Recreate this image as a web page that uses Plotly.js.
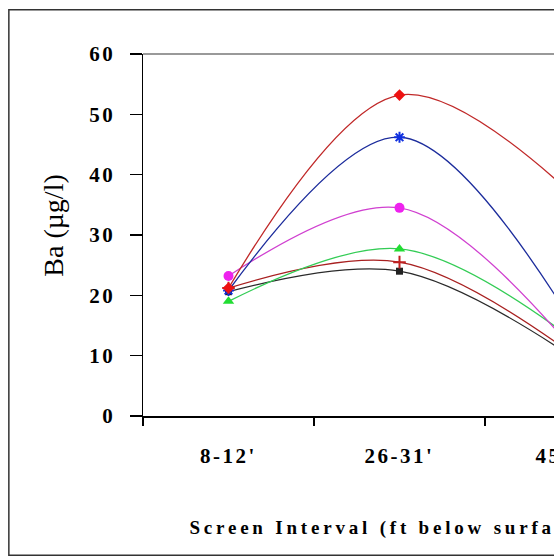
<!DOCTYPE html>
<html>
<head>
<meta charset="utf-8">
<script src="https://cdn.plot.ly/plotly-3.0.1.min.js"></script>
<style>
html, body { margin: 0; padding: 0; overflow: hidden; background: #fff; }
#chart { width: 680px; height: 557px; }
#chart .xtick text, #chart .ytick text { letter-spacing: 2.5px; }
#chart g.annotation[data-index="1"] text { letter-spacing: 3.8px; }
</style>
</head>
<body>
<div id="chart"></div>
<script>
// Categories (screen intervals)
var categories = ["8-12'", "26-31'", "45-50'"];

// Series values (Ba, µg/l)
var redValues     = [21.2, 53.2, 37.0];
var blueValues    = [20.8, 46.2, 16.0];
var magentaValues = [23.2, 34.5, 11.5];
var greenValues   = [19.0, 27.7, 13.0];
var darkRedValues = [21.2, 25.5, 10.5];
var blackValues   = [20.6, 24.0, 10.0];

var yTickValues = [0, 10, 20, 30, 40, 50, 60];

function series(name, vals, lineColor, markerColor, symbol, size) {
  var outlined = (symbol === 'asterisk' || symbol === 'cross-thin');
  return {
    type: 'scatter', mode: 'lines+markers', name: name,
    x: categories, y: vals,
    line: {color: lineColor, width: 1.3, shape: 'spline', smoothing: 1},
    marker: {color: markerColor, symbol: symbol, size: size,
             line: {color: markerColor, width: outlined ? 2 : 0}},
    cliponaxis: false
  };
}

var data = [
  series('Black', blackValues, '#2a2a2a', '#222222', 'square', 7),
  series('Dark red', darkRedValues, '#a82020', '#c02020', 'cross-thin', 9),
  series('Green', greenValues, '#33cc55', '#22dd33', 'triangle-up', 10),
  series('Magenta', magentaValues, '#d040d0', '#ee22ee', 'circle', 10),
  series('Blue', blueValues, '#1c2c9c', '#1030e0', 'asterisk', 9),
  series('Red', redValues, '#c02828', '#ee1111', 'diamond', 9)
];

var tickFont = {family: 'Liberation Serif, Times New Roman, serif', size: 21, color: '#000', weight: 'bold'};

var layout = {
  width: 680, height: 557,
  margin: {l: 143, r: 24, t: 54, b: 141},
  paper_bgcolor: '#ffffff', plot_bgcolor: '#ffffff',
  showlegend: false,
  font: {family: 'Liberation Serif, Times New Roman, serif', color: '#000'},
  xaxis: {
    type: 'category', range: [-0.5, 2.5],
    showgrid: false, zeroline: false,
    showline: true, linecolor: '#000', linewidth: 1.5,
    ticks: 'outside', tickson: 'boundaries', ticklen: 8, tickcolor: '#000', tickwidth: 1.5,
    ticklabelstandoff: 20,
    tickfont: tickFont
  },
  yaxis: {
    range: [0, 60], tickvals: yTickValues,
    showgrid: false, zeroline: false,
    showline: true, linecolor: '#000', linewidth: 1.5,
    ticks: 'outside', ticklen: 12, tickcolor: '#000', tickwidth: 1.5,
    ticklabelstandoff: 10,
    tickfont: tickFont
  },
  shapes: [
    {type: 'line', xref: 'paper', yref: 'paper', x0: 0, x1: 1, y0: 1, y1: 1,
     line: {color: '#999999', width: 2}},
    {type: 'rect', xref: 'paper', yref: 'paper', x0: -0.2615, x1: 1.04, y0: -0.385, y1: 1.122,
     line: {color: '#333333', width: 1.5}, fillcolor: 'rgba(0,0,0,0)', layer: 'below'}
  ],
  annotations: [
    {text: 'Ba (µg/l)', xref: 'paper', yref: 'paper', x: -0.174, y: 0.525,
     xanchor: 'center', yanchor: 'middle', textangle: -90, showarrow: false,
     font: {family: 'Liberation Serif, Times New Roman, serif', size: 28, color: '#000'}},
    {text: 'Screen Interval (ft below surface)', xref: 'paper', yref: 'paper',
     x: (389 - 143) / 513, y: -0.309, xanchor: 'center', yanchor: 'middle', showarrow: false,
     font: {family: 'Liberation Serif, Times New Roman, serif', size: 19, color: '#000', weight: 'bold'}}
  ]
};

Plotly.newPlot('chart', data, layout, {displayModeBar: false, staticPlot: true});
</script>
</body>
</html>
